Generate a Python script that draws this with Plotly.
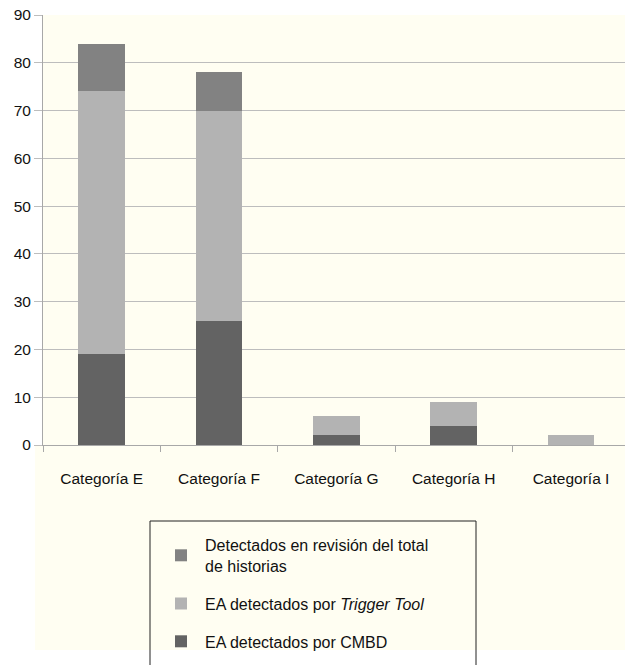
import plotly.graph_objects as go

categories = ["Categoría E", "Categoría F", "Categoría G", "Categoría H", "Categoría I"]
cmbd = [19, 26, 2, 4, 0]
trigger = [55, 44, 4, 5, 2]
revision = [10, 8, 0, 0, 0]

series_names = ["EA detectados por CMBD",
                "EA detectados por <i>Trigger Tool</i>",
                "Detectados en revisión del total<br>de historias"]
series_values = [cmbd, trigger, revision]
series_colors = ["#636363", "#b3b3b3", "#828282"]
legend_ranks = [3, 2, 1]

W, H = 625, 665
CREAM = "#fffef2"
FONT = "Liberation Sans, Arial, sans-serif"
PL, PR, PT, PB = 43, 625, 15, 445  # plot area in pixels

fig = go.Figure()
for i, (name, vals, col, rk) in enumerate(zip(series_names, series_values, series_colors, legend_ranks)):
    fig.add_trace(go.Bar(
        x=categories, y=vals, name=name, marker=dict(color=col, line=dict(width=0)),
        width=0.4, legendgroup=f"g{i}", legendrank=rk,
    ))

def fx(p):
    return (p - PL) / (PR - PL)

def fy(p):
    return (PB - p) / (PB - PT)

fig.update_layout(
    width=W, height=H,
    margin=dict(l=PL, r=W - PR, t=PT, b=H - PB),
    barmode="stack",
    paper_bgcolor="white",
    plot_bgcolor=CREAM,
    font=dict(family=FONT, size=15.5, color="#111111"),
    showlegend=True,
    legend=dict(
        x=fx(157), y=fy(528), xanchor="left", yanchor="top",
        xref="paper", yref="paper",
        bgcolor="rgba(0,0,0,0)", borderwidth=0,
        traceorder="grouped", tracegroupgap=14, itemwidth=38,
        font=dict(family=FONT, size=16, color="#111111"),
        itemclick=False,
    ),
    xaxis=dict(
        range=[-0.5, 4.46], showgrid=False,
        showline=True, linecolor="#a8a8a8", linewidth=1,
        ticks="outside", tickson="boundaries", ticklen=6, tickcolor="#a8a8a8",
        ticklabelstandoff=19, tickfont=dict(size=15.5, family=FONT, color="#111111"),
    ),
    yaxis=dict(
        range=[0, 90], dtick=10, showgrid=True, gridcolor="#bdbdbd", gridwidth=1,
        showline=True, linecolor="#a8a8a8", linewidth=1,
        ticks="outside", ticklen=8, tickcolor="#bdbdbd",
        zeroline=False, tickfont=dict(size=15.5, family=FONT, color="#111111"),
    ),
)

# cream region below the plot area
fig.add_shape(type="rect", xref="paper", yref="paper",
              x0=fx(35), x1=1, y0=fy(650), y1=0,
              fillcolor=CREAM, line=dict(width=0), layer="below")
# legend frame
fig.add_shape(type="rect", xref="paper", yref="paper",
              x0=fx(150), x1=fx(476), y0=fy(668), y1=fy(521),
              fillcolor="rgba(0,0,0,0)", line=dict(width=1, color="#222222"), layer="above")

fig.write_html("out.html")
